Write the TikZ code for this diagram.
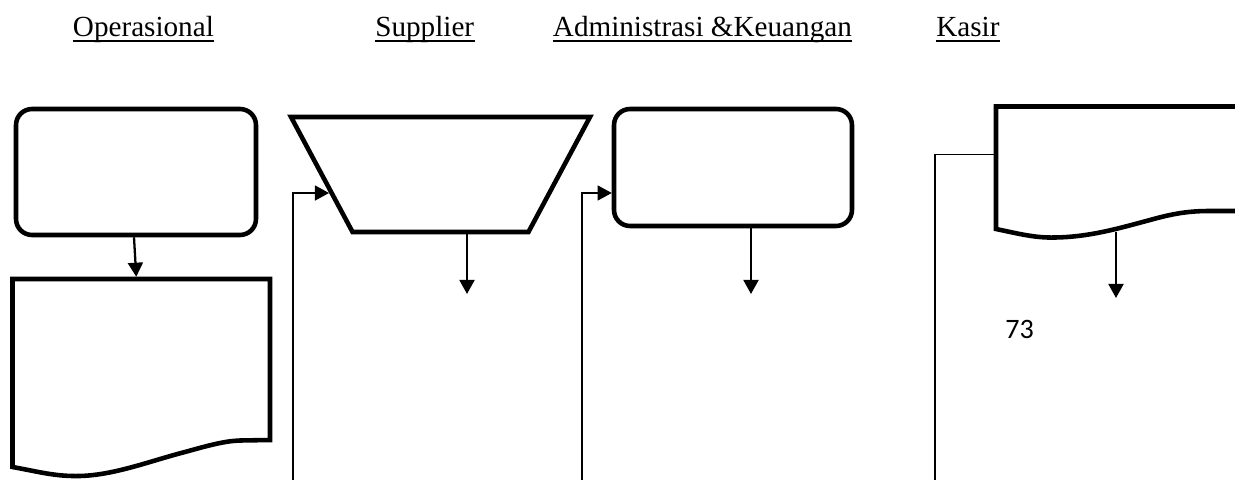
\documentclass[tikz,border=0pt]{standalone}
\usepackage{fontspec}
\setmainfont{Liberation Serif}
\newfontfamily\numfont{Carlito}
\usetikzlibrary{arrows.meta,calc}

\begin{document}
\begin{tikzpicture}[x=0.02cm,y=-0.02cm,
  heavy/.style={line width=2.6pt, line join=miter},
  procbox/.style={draw, heavy, rounded corners=0.32cm, inner sep=0pt},
  area/.style={rectangle, draw=none, inner sep=0pt, outer sep=1.3pt},
  flow/.style={line width=1.3pt, -{Triangle[length=8pt,width=8.5pt]}},
  link/.style={line width=0.85pt, -{Triangle[length=8pt,width=8.5pt]}},
  plain/.style={line width=0.85pt},
  lane/.style={inner sep=0pt, anchor=base west, font=\fontsize{16.6}{20}\selectfont},
  rule/.style={line width=1.1pt}
]
\useasboundingbox (0,0) rectangle (1235,480);
\clip (0,0) rectangle (1235,480);

% column headings
\node[lane] (h1) at (72.6,36) {Operasional};
\node[lane] (h2) at (375,36) {Supplier};
\node[lane] (h3) at (552.6,36) {Administrasi \&Keuangan};
\node[lane] (h4) at (936,36) {Kasir};
\foreach \h in {h1,h2,h3,h4}
  \draw[rule] ($(\h.base west)+(0,5)$) -- ($(\h.base east)+(0,5)$);

% Operasional: process box and document
\node[procbox, minimum width=4.8cm, minimum height=2.52cm] (box1) at (136,172) {};
\node[area, minimum width=5.15cm, minimum height=3.76cm] (d1) at (141.25,373) {};
\draw[heavy] (12.5,467) -- (12.5,279) -- (270,279) -- (270,440) -- (240,440.5)
  .. controls (225,441) and (210,445) .. (185,452)
  .. controls (150,461) and (115,475) .. (80,476)
  .. controls (55,476.5) and (40,472) .. (12.5,467) -- cycle;
\draw[flow] ($(box1.south)+(-2,0)$) -- ($(d1.north)+(-5,0)$);

% Supplier: manual operation (inverted trapezium)
\node[area, outer sep=0pt, minimum width=5.98cm, minimum height=2.3cm] (tz) at (440.5,174.5) {};
\coordinate (tzbl) at ($(tz.south west)+(61.5,0)$);
\coordinate (tzbr) at ($(tz.south east)+(-61.5,0)$);
\draw[heavy] (tz.north west) -- (tz.north east) -- (tzbr) -- (tzbl) -- cycle;
\coordinate (tzin) at ($(tz.north west)!0.661!(tzbl)$);
\coordinate (t1) at (467,294);
\draw[flow, shorten <=-1.3pt] (t1 |- tz.south) ++(0,2) -- (t1);
\coordinate (kA) at (293,485);
\draw[link, shorten >=1.5pt] (kA) |- (tzin);

% Administrasi & Keuangan
\node[procbox, minimum width=4.76cm, minimum height=2.34cm] (box2) at (733,167.5) {};
\coordinate (t2) at (751,294);
\draw[flow] (t2 |- box2.south) -- (t2);
\coordinate (kB) at (582,485);
\draw[link] (kB) |- ($(box2.west)+(0,25.5)$);

% Kasir: document
\node[area, minimum width=5.14cm, minimum height=2.45cm] (d3) at (1124.5,167.75) {};
\draw[heavy] (996,229) -- (996,106.5) -- (1253,106.5) -- (1253,211) -- (1210,211)
  .. controls (1190,211) and (1175,213) .. (1150,220)
  .. controls (1120,228) and (1090,237) .. (1055,237.5)
  .. controls (1035,238) and (1020,234) .. (996,229) -- cycle;
\coordinate (w3) at (1116,232);
\coordinate (t3) at (1116,298);
\draw[flow] (w3) -- (t3);
\coordinate (kC) at (935,485);
\draw[plain] (kC) |- ($(d3.north west)!0.396!(d3.south west)$);

\node[font=\numfont\fontsize{16}{19}\selectfont, inner sep=0pt, anchor=base] (pg) at (1019.5,338) {73};
\end{tikzpicture}
\end{document}
